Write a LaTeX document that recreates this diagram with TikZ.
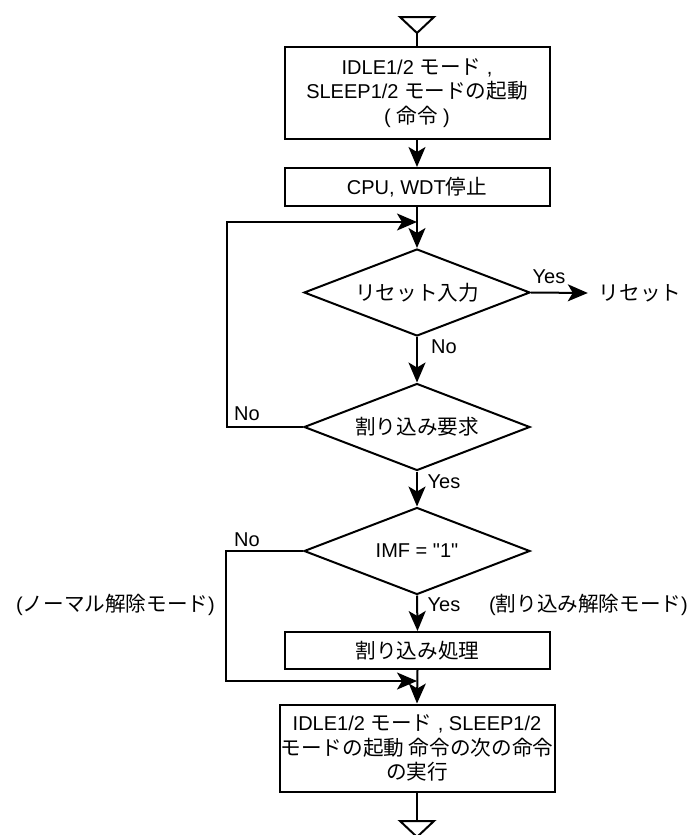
\documentclass[tikz,border=0pt]{standalone}
\usepackage{fontspec}
\setmainfont{Liberation Sans}
\newfontfamily\rawfont{Liberation Sans}[Ligatures=TeXOff]
\newfontfamily\jpfont{Noto Sans CJK JP}[Scale=1.03]
\usetikzlibrary{shapes.geometric,arrows.meta}
\newcommand{\J}[1]{{\jpfont #1}}
\begin{document}
\begin{tikzpicture}[x=1pt,y=-1pt,
  font=\fontsize{20}{24.5}\selectfont,
  line width=2pt,
  box/.style={draw, rectangle, inner sep=0pt, align=center},
  dec/.style={draw, diamond, inner sep=0pt, shape aspect=2.6, minimum width=226pt, minimum height=87pt},
  arr/.style={-{Stealth[length=20pt,width=17pt,inset=5pt]}},
  lbl/.style={inner sep=0pt},
  term/.style={line join=miter}
]
\useasboundingbox (0,0) rectangle (694,835);
\clip (0,0) rectangle (694,835);

% top terminal
\coordinate (t1) at (417,33);
\draw[term] (400,17) -- (434,17) -- (t1) -- cycle;

\node[box, minimum width=265pt, minimum height=92pt] (b1) at (417,93)
  {IDLE1/2 \J{モード} ,\\ SLEEP1/2 \J{モードの起動}\\ ( \J{命令} )};
\node[box, minimum width=265pt, minimum height=38pt] (b2) at (417,187)
  {CPU, WDT\J{停止}};
\node[dec] (d1) at (417,292.5) {\J{リセット入力}};
\node[inner xsep=10pt, inner ysep=0pt] (rst) at (640,293) {\J{リセット}};
\node[dec] (d2) at (417,427) {\J{割り込み要求}};
\node[dec] (d3) at (417,551) {{\rawfont IMF = "1"}};
\node[box, minimum width=265pt, minimum height=37pt] (b3) at (417.5,650.5)
  {\J{割り込み処理}};
\node[box, minimum width=275pt, minimum height=87pt] (b4) at (417,748)
  {IDLE1/2 \J{モード} , SLEEP1/2\\ \J{モードの起動 命令の次の命令}\\ \J{の実行}};

% bottom terminal
\coordinate (t2) at (417,821);
\draw[term] (400,821) -- (434,821) -- (417,837) -- cycle;

% junction points
\coordinate (j1) at (417,222);
\coordinate (j2) at (417,681);

% connectors
\draw (t1) -- (b1.north);
\draw[arr] (b1.south) -- (b2.north);
\draw[arr] (b2.south) -- (d1.north);
\draw[arr] (d1.east) -- (rst.west);
\draw[arr] (d1.south) -- (d2.north);
\draw[arr] (d2.west) -- ++(-76,0) |- (j1);
\draw[arr] (d2.south) -- (d3.north);
\draw[arr] (d3.west) -- ++(-77,0) |- (j2);
\draw[arr] (d3.south) -- (b3.north);
\draw[arr] (b3.south) -- (b4.north);
\draw (b4.south) -- (t2);

% labels
\node[lbl] (y1) at (549,277) {Yes};
\node[lbl] (n1) at (444,347) {No};
\node[lbl] (n2) at (247,414) {No};
\node[lbl] (y2) at (444,482) {Yes};
\node[lbl] (n3) at (247,540) {No};
\node[lbl] (y3) at (444,605) {Yes};
\node[lbl] (m1) at (115.5,605) {(\J{ノーマル解除モード})};
\node[lbl] (m2) at (588.5,605) {(\J{割り込み解除モード})};
\end{tikzpicture}
\end{document}
